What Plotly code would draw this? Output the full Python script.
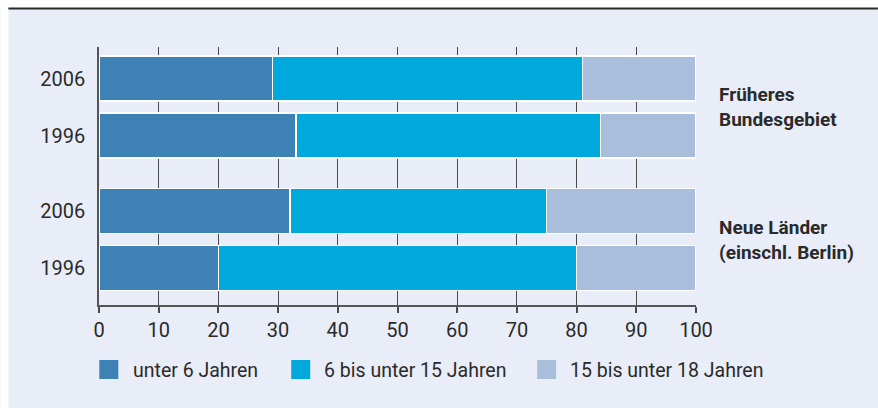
import plotly.graph_objects as go

# ---- data ----
years = ["2006", "1996", "2006", "1996"]
group_of_row = [0, 0, 1, 1]
group_labels = ["Früheres<br>Bundesgebiet", "Neue Länder<br>(einschl. Berlin)"]
series_names = ["unter 6 Jahren", "6 bis unter 15 Jahren", "15 bis unter 18 Jahren"]
under6 = [29, 33, 32, 20]
six_to15 = [52, 51, 43, 60]
fifteen_to18 = [19, 16, 25, 20]
x_ticks = [0, 10, 20, 30, 40, 50, 60, 70, 80, 90, 100]

colors = ["#3d81b5", "#00a9dc", "#a9bedb"]
panel = "#e9edf7"
font = "Roboto"

# layout geometry (pixels)
W, H = 878, 408
L, R, T, B = 98.7, 182, 47, 103
pw, ph = W - L - R, H - T - B
GAP = 0.325
ypos = [i + g * GAP for i, g in enumerate(group_of_row)]


def px(x):
    return (x - L) / pw


def py(y):
    return (H - B - y) / ph


fig = go.Figure()
for name, vals, c in zip(series_names, [under6, six_to15, fifteen_to18], colors):
    fig.add_trace(go.Bar(
        y=ypos, x=vals, name=name, orientation="h", width=0.79,
        marker=dict(color=c, line=dict(color="white", width=1.2)),
        hoverinfo="x+name", showlegend=False,
    ))

shapes = [
    # white margins outside panel
    dict(type="rect", xref="paper", yref="paper", x0=px(0), x1=px(8), y0=py(H), y1=py(0),
         fillcolor="white", line_width=0, layer="below"),
    dict(type="rect", xref="paper", yref="paper", x0=px(0), x1=px(W), y0=py(8), y1=py(0),
         fillcolor="white", line_width=0, layer="below"),
    dict(type="line", xref="paper", yref="paper", x0=px(8), x1=px(W), y0=py(8.5), y1=py(8.5),
         line=dict(color="#2a2a2a", width=2)),
]
annotations = []
leg_sq_x = [99, 291, 537]
leg_tx_x = [131, 322, 568]
for name, c, sx, tx in zip(series_names, colors, leg_sq_x, leg_tx_x):
    shapes.append(dict(type="rect", xref="paper", yref="paper",
                       x0=px(sx), x1=px(sx + 19), y0=py(379), y1=py(360),
                       fillcolor=c, line_width=0))
    annotations.append(dict(xref="paper", yref="paper", x=px(tx), y=py(370),
                            xanchor="left", yanchor="middle", showarrow=False,
                            text=name, font=dict(family=font, size=19.5, color="#2a2a2a")))

for g, lab in enumerate(group_labels):
    ys = [ypos[i] for i in range(len(ypos)) if group_of_row[i] == g]
    annotations.append(dict(xref="paper", yref="y", x=px(717), y=sum(ys) / len(ys),
                            xanchor="left", yanchor="middle", showarrow=False, align="left",
                            text="<b>" + lab + "</b>",
                            font=dict(family=font, size=19, color="#2a2a2a")))

fig.update_layout(
    width=W, height=H, barmode="stack",
    margin=dict(l=L, r=R, t=T, b=B, pad=0),
    paper_bgcolor=panel, plot_bgcolor=panel,
    font=dict(family=font, size=20, color="#2a2a2a"),
    shapes=shapes, annotations=annotations, showlegend=False,
)
fig.update_xaxes(
    range=[0, 100], tickvals=x_ticks, ticktext=[str(v) for v in x_ticks],
    showgrid=True, gridcolor="#4a4a4a", gridwidth=1,
    showline=True, linecolor="#555555", linewidth=1.5,
    ticks="outside", ticklen=6, tickcolor="#4a4a4a", tickwidth=1.5,
    zeroline=False, fixedrange=True,
)
fig.update_yaxes(
    range=[3 + GAP + 0.649, -0.553], tickvals=ypos, ticktext=years,
    showgrid=False, zeroline=False, showline=True, linecolor="#555555", linewidth=1.5,
    ticks="", ticklabelstandoff=8, fixedrange=True,
)
fig.write_html("out.html", config={"displayModeBar": False},
               post_script="document.body.style.margin='0';")
